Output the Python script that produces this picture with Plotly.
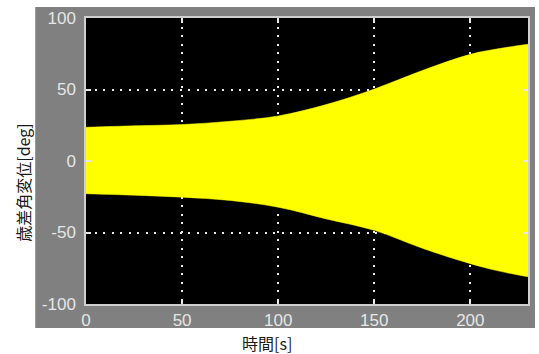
import plotly.graph_objects as go

# Data (envelope of the oscillation)
time_s = [0, 25, 50, 75, 100, 125, 150, 175, 200, 215, 230]
upper_deg = [23.6, 24.6, 25.5, 27.8, 31.5, 39.5, 50.3, 63.3, 74.6, 78.6, 81.7]
lower_deg = [-22.9, -23.9, -25.3, -27.6, -32.3, -40.5, -48.5, -61.0, -71.8, -77.0, -81.0]
x_ticks = [0, 50, 100, 150, 200]
y_ticks = [-100, -50, 0, 50, 100]

YELLOW = "#ffff00"
GRAY = "#808080"
TICKFONT = dict(family="Liberation Sans, Arial, sans-serif",
                size=17, color="#e6e6e6")
CJK = "Noto Sans CJK JP, Noto Sans, sans-serif"

fig = go.Figure()
fig.add_trace(go.Scatter(x=time_s, y=lower_deg, mode="lines",
                         line=dict(color=YELLOW, width=0.5, shape="spline"),
                         hoverinfo="skip", showlegend=False))
fig.add_trace(go.Scatter(x=time_s, y=upper_deg, mode="lines", fill="tonexty",
                         fillcolor=YELLOW,
                         line=dict(color=YELLOW, width=0.5, shape="spline"),
                         hoverinfo="skip", showlegend=False))

W, H = 539, 354
L, R, T, B = 86, 9, 17, 50
pw, ph = W - L - R, H - T - B

def px_x(p):
    return (p - L) / pw

def px_y(p):
    return (H - B - p) / ph

fig.update_layout(
    width=W, height=H,
    margin=dict(l=L, r=R, t=T, b=B),
    paper_bgcolor="white",
    plot_bgcolor="black",
    shapes=[
        dict(type="rect", xref="paper", yref="paper",
             x0=px_x(35), x1=px_x(537), y0=px_y(328), y1=px_y(6),
             fillcolor=GRAY, line=dict(width=0), layer="below"),
        dict(type="rect", xref="x domain", yref="y domain",
             x0=0, x1=1, y0=0, y1=1,
             fillcolor="black", line=dict(width=0), layer="below"),
    ],
    annotations=[
        dict(text="時間[s]", xref="paper", yref="paper",
             x=px_x(268), y=px_y(343), showarrow=False,
             xanchor="center", yanchor="middle",
             font=dict(family=CJK, size=16, color="#1a1a1a")),
        dict(text="歳差角変位[deg]", xref="paper", yref="paper",
             x=px_x(23), y=px_y(182), showarrow=False, textangle=-90,
             xanchor="center", yanchor="middle",
             font=dict(family=CJK, size=16, color="#1a1a1a")),
    ],
)

grid_common = dict(
    showgrid=True, gridcolor="#e8e8e8", gridwidth=1.5, griddash="2px,6.5px",
    showline=True, linecolor="#cfcfcf", linewidth=1.5, mirror="ticks",
    ticks="inside", ticklen=5, tickcolor="#e8e8e8", tickwidth=1.5,
    zeroline=False, tickfont=TICKFONT,
)

fig.update_xaxes(range=[0, 230], tickvals=x_ticks,
                 ticktext=[str(v) for v in x_ticks], ticklabelstandoff=0,
                 **grid_common)
fig.update_yaxes(range=[-100, 100], tickvals=y_ticks,
                 ticktext=[str(v) for v in y_ticks], ticklabelstandoff=5,
                 **grid_common)

fig.write_html("out.html",
               config={"displayModeBar": False},
               post_script="document.body.style.margin='0';document.body.style.overflow='hidden';")
